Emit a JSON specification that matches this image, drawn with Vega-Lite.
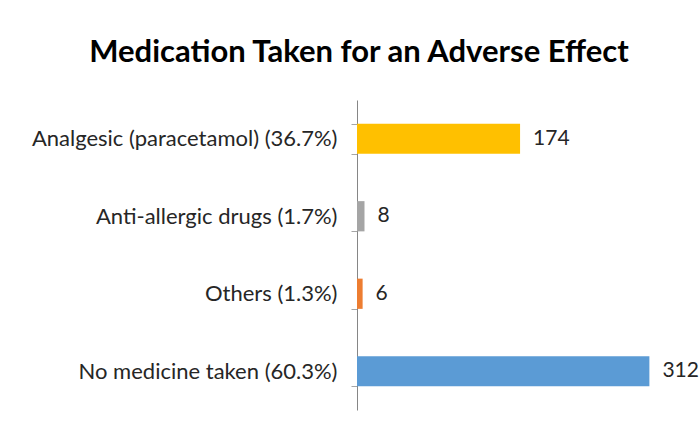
{
  "$schema": "https://vega.github.io/schema/vega-lite/v6.json",
  "autosize": "none",
  "width": 328,
  "height": 310,
  "padding": {"left": 357, "top": 100, "right": 14, "bottom": 17},
  "background": "white",
  "title": {
    "text": "Medication Taken for an Adverse Effect",
    "font": "Lato",
    "fontSize": 31,
    "fontWeight": "bold",
    "color": "#000000",
    "anchor": "middle",
    "dx": -162,
    "offset": 20
  },
  "data": {
    "values": [
      {"label": "Analgesic (paracetamol) (36.7%)", "count": 174, "color": "#FFC000"},
      {"label": "Anti-allergic drugs (1.7%)", "count": 8, "color": "#A5A5A5"},
      {"label": "Others (1.3%)", "count": 6, "color": "#ED7D31"},
      {"label": "No medicine taken (60.3%)", "count": 312, "color": "#5B9BD5"}
    ]
  },
  "encoding": {
    "y": {
      "field": "label",
      "type": "nominal",
      "sort": null,
      "scale": {"paddingInner": 0.61, "paddingOuter": 0.305},
      "axis": {
        "title": null,
        "labelFont": "Lato",
        "labelFontSize": 22,
        "labelColor": "#262626",
        "labelPadding": 14,
        "labelLimit": 400,
        "tickBand": "extent",
        "tickSize": 6,
        "tickColor": "#a6a6a6",
        "domainColor": "#868686",
        "grid": false
      }
    },
    "x": {
      "field": "count",
      "type": "quantitative",
      "scale": {"domain": [0, 350]},
      "axis": null
    }
  },
  "layer": [
    {"mark": {"type": "bar"}, "encoding": {"color": {"field": "color", "type": "nominal", "scale": null}}},
    {
      "mark": {"type": "text", "align": "left", "dx": 13, "font": "Lato", "fontSize": 21, "color": "#262626"},
      "encoding": {"text": {"field": "count", "type": "quantitative"}}
    }
  ],
  "config": {"view": {"stroke": null}}
}
